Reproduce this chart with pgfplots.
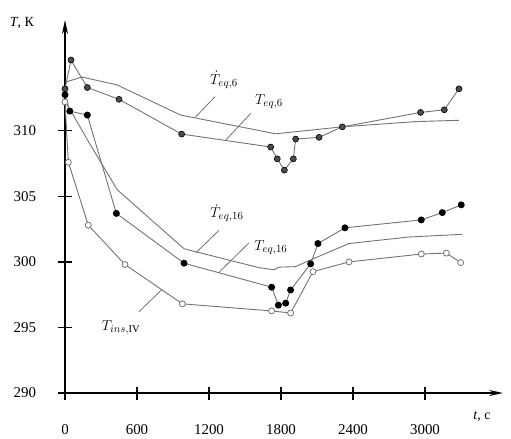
\documentclass[border=0pt]{standalone}
\usepackage{pgfplots}
\pgfplotsset{compat=1.18}
\usepackage{fontspec}
\setmainfont{Liberation Serif}
\usetikzlibrary{arrows.meta}
\definecolor{ln}{gray}{0.45}
\begin{document}
\begin{tikzpicture}
\begin{axis}[
  scale only axis,
  width=438bp, height=373bp,
  xmin=0, xmax=3650, ymin=290, ymax=318.45,
  axis lines=left,
  axis line style={line width=1.6pt, -{Stealth[length=14bp,width=6bp]}},
  xtick={0,600,1200,1800,2400,3000},
  ytick={290,295,300,305,310},
  tick align=center,
  major tick length=13bp,
  tick style={line width=1.4pt, black},
  /pgf/number format/assume math mode=true,
  /pgf/number format/1000 sep={},
  ticklabel style={font=\fontsize{15}{15}\selectfont},
  yticklabel style={xshift=-19bp},
  xticklabel style={yshift=-22bp},
  clip=false,
]
% T_eq,6 (dark markers)
\addplot[ln, line width=0.9pt, mark=*, mark size=3bp, mark options={fill=black!70, draw=black, line width=0.6pt}] coordinates {
(0,313.2) (50,315.4) (186,313.3) (450,312.4) (972,309.75) (1714,308.76) (1769,307.86) (1828,307.0) (1903,307.86) (1922,309.37) (2117,309.5) (2311,310.3) (2963,311.4) (3161,311.6) (3283,313.2)};
% dot T_eq,6
\addplot[ln, line width=0.9pt, mark=none] coordinates {
(0,313.7) (142,314.1) (433,313.5) (964,311.2) (1755,309.77) (2308,310.3) (2922,310.7) (3283,310.8)};
% T_eq,16 (black)
\addplot[ln, line width=0.9pt, mark=*, mark size=3bp, mark options={fill=black, draw=black}] coordinates {
(0,312.75) (40,311.5) (186,311.2) (428,303.7) (992,299.9) (1722,298.07) (1778,296.7) (1839,296.85) (1880,297.86) (2047,299.85) (2108,301.4) (2333,302.6) (2969,303.2) (3144,303.76) (3302,304.35)};
% dot T_eq,16
\addplot[ln, line width=0.9pt, mark=none] coordinates {
(0,312.3) (200,309.1) (436,305.5) (992,301.0) (1617,299.56) (1742,299.4) (1783,299.6) (1922,299.64) (2033,300.1) (2367,301.4) (2867,301.9) (3308,302.1)};
% T_ins,IV (open)
\addplot[ln, line width=0.9pt, mark=*, mark size=3bp, mark options={fill=white, draw=ln, line width=0.8pt}] coordinates {
(0,312.2) (28,307.6) (194,302.8) (500,299.8) (978,296.8) (1722,296.26) (1880,296.1) (2067,299.26) (2367,300.0) (2969,300.6) (3178,300.67) (3297,299.95)};
% leaders
\draw[ln, line width=0.8pt] (axis cs:1250,312.6) -- (axis cs:1083,311.0);
\draw[ln, line width=0.8pt] (axis cs:1550,311.35) -- (axis cs:1341,309.3);
\draw[ln, line width=0.8pt] (axis cs:1283,302.4) -- (axis cs:1091,300.7);
\draw[ln, line width=0.8pt] (axis cs:1533,301.45) -- (axis cs:1283,299.2);
\draw[ln, line width=0.8pt] (axis cs:617,296.2) -- (axis cs:808,297.9);
% labels
\node[font=\fontsize{15}{15}\selectfont] at (axis cs:1325,313.9) {$\dot{T}_{eq,6}$};
\node[font=\fontsize{15}{15}\selectfont] at (axis cs:1700,312.2) {$T_{eq,6}$};
\node[font=\fontsize{15}{15}\selectfont] at (axis cs:1350,303.7) {$\dot{T}_{eq,16}$};
\node[font=\fontsize{15}{15}\selectfont] at (axis cs:1716,301.1) {$T_{eq,16}$};
\node[font=\fontsize{15}{15}\selectfont] at (axis cs:467,295.0) {$T_{ins,\mathrm{IV}}$};
\node[font=\fontsize{14}{14}\selectfont] at (axis cs:-360,318.2) {\textit{T}, К};
\node[font=\fontsize{14}{14}\selectfont] at (axis cs:3475,288.2) {\textit{t}, с};
\end{axis}
\path (current axis.south west) ++(-65bp,-45bp) rectangle ++(511bp,438bp);
\end{tikzpicture}
\end{document}
